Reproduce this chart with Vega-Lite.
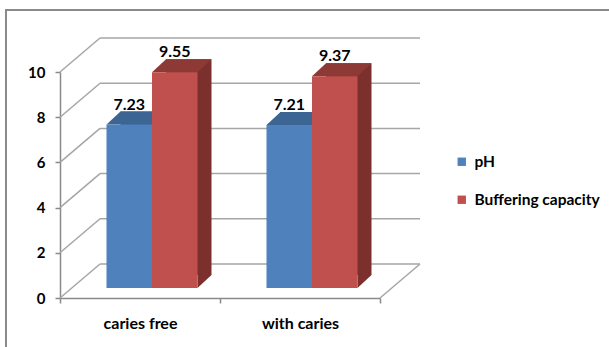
{
  "$schema": "https://vega.github.io/schema/vega-lite/v6.json",
  "width": 605,
  "height": 339,
  "autosize": {"type": "none"},
  "padding": {"left": 6, "top": 10, "right": -2, "bottom": -2},
  "background": "white",
  "config": {
    "view": {"stroke": "#8a8a8a", "strokeWidth": 2},
    "font": "Lato"
  },
  "datasets": {
    "bars": [
      {"group": "caries free", "series": "pH", "value": 7.23},
      {"group": "caries free", "series": "Buffering capacity", "value": 9.55},
      {"group": "with caries", "series": "pH", "value": 7.21},
      {"group": "with caries", "series": "Buffering capacity", "value": 9.37}
    ],
    "grid": [{"v": 0}, {"v": 2}, {"v": 4}, {"v": 6}, {"v": 8}, {"v": 10}]
  },
  "resolve": {"scale": {"xOffset": "independent"}},
  "layer": [
    {
      "data": {"name": "grid"},
      "mark": {"type": "rule", "color": "#a6a6a6", "strokeWidth": 1.5, "xOffset": 40, "x2Offset": 40, "yOffset": -34},
      "encoding": {
        "x": {"datum": "caries free", "bandPosition": 0, "type": "nominal", "title": null,
          "scale": {"type": "band", "domain": ["caries free", "with caries"], "range": [54, 374], "paddingInner": 0, "paddingOuter": 0},
          "axis": {"title": null, "offset": -51, "bandPosition": 0.5, "labelAlign": "center", "labelAngle": 0, "labelFont": "Lato", "labelFontSize": 16, "labelFontWeight": "bold", "labelColor": "#000000", "labelPadding": 12, "domainColor": "#8a8a8a", "domainWidth": 1.5, "tickColor": "#8a8a8a", "tickSize": 5, "tickWidth": 1.5, "tickBand": "extent", "grid": false}},
        "x2": {"datum": "with caries", "bandPosition": 1},
        "y": {"field": "v", "type": "quantitative", "title": null,
          "scale": {"domain": [0, 10], "range": [288, 62], "nice": false},
          "axis": {"title": null, "offset": -54, "values": [0, 2, 4, 6, 8, 10], "labelFont": "Lato", "labelFontSize": 15, "labelFontWeight": "bold", "labelColor": "#000000", "labelPadding": 10, "domainColor": "#8a8a8a", "domainWidth": 1.5, "tickColor": "#8a8a8a", "tickSize": 5, "tickWidth": 1.5, "grid": false}}
      }
    },
    {
      "data": {"name": "grid"},
      "mark": {"type": "rule", "color": "#a6a6a6", "strokeWidth": 1.5, "x2Offset": 40, "y2Offset": -34},
      "encoding": {
        "x": {"datum": "caries free", "bandPosition": 0, "type": "nominal", "title": null},
        "x2": {"datum": "caries free", "bandPosition": 0},
        "y": {"field": "v", "type": "quantitative", "title": null},
        "y2": {"field": "v"}
      }
    },
    {
      "data": {"name": "grid"},
      "transform": [{"filter": "datum.v == 0"}],
      "mark": {"type": "rule", "color": "#a6a6a6", "strokeWidth": 1.5, "x2Offset": 40, "y2Offset": -34},
      "encoding": {
        "x": {"datum": "with caries", "bandPosition": 1, "type": "nominal", "title": null},
        "x2": {"datum": "with caries", "bandPosition": 1},
        "y": {"field": "v", "type": "quantitative", "title": null},
        "y2": {"field": "v"}
      }
    },
    {
      "data": {"name": "bars"},
      "mark": {"type": "bar", "yOffset": -23, "y2Offset": -23},
      "encoding": {
        "x": {"field": "group", "type": "nominal", "title": null},
        "xOffset": {"field": "series", "type": "nominal", "sort": ["pH", "Buffering capacity"], "scale": {"type": "band", "range": [26, 186], "paddingInner": 0, "paddingOuter": 0.758}},
        "y": {"field": "value", "type": "quantitative", "title": null},
        "fill": {"condition": {"test": "datum.series === 'pH'", "value": "#37598a"}, "value": "#7b302e"}
      }
    },
    {
      "data": {"name": "bars"},
      "mark": {"type": "point", "filled": true, "opacity": 1, "strokeWidth": 0, "size": 400, "yOffset": -10, "shape": "M2.275,-1.3L2.275,0L3.675,-1.3Z"},
      "encoding": {
        "x": {"field": "group", "type": "nominal", "title": null},
        "xOffset": {"field": "series", "type": "nominal", "sort": ["pH", "Buffering capacity"], "scale": {"type": "band", "range": [12, 172], "paddingInner": 0, "paddingOuter": 0.758}},
        "y": {"datum": 0, "type": "quantitative", "title": null},
        "fill": {"condition": {"test": "datum.series === 'pH'", "value": "#37598a"}, "value": "#7b302e"}
      }
    },
    {
      "data": {"name": "bars"},
      "mark": {"type": "point", "filled": true, "opacity": 1, "strokeWidth": 0, "size": 400, "yOffset": -10, "shape": "M-2.275,0L2.275,0L3.675,-1.3L-0.875,-1.3Z"},
      "encoding": {
        "x": {"field": "group", "type": "nominal", "title": null},
        "xOffset": {"field": "series", "type": "nominal", "sort": ["pH", "Buffering capacity"], "scale": {"type": "band", "range": [12, 172], "paddingInner": 0, "paddingOuter": 0.758}},
        "y": {"field": "value", "type": "quantitative", "title": null},
        "fill": {"condition": {"test": "datum.series === 'pH'", "value": "#3d6594"}, "value": "#8d3a37"}
      }
    },
    {
      "data": {"name": "bars"},
      "mark": {"type": "bar", "yOffset": -10, "y2Offset": -10},
      "encoding": {
        "x": {"field": "group", "type": "nominal", "title": null},
        "xOffset": {"field": "series", "type": "nominal", "sort": ["pH", "Buffering capacity"], "scale": {"type": "band", "range": [12, 172], "paddingInner": 0, "paddingOuter": 0.758}},
        "y": {"field": "value", "type": "quantitative", "title": null},
        "color": {"field": "series", "type": "nominal", "sort": ["pH", "Buffering capacity"],
          "scale": {"domain": ["pH", "Buffering capacity"], "range": ["#4f81bd", "#c0504d"]},
          "legend": {"title": null, "orient": "none", "legendX": 448, "legendY": 144, "symbolType": "square", "symbolSize": 70, "symbolStrokeWidth": 0, "labelFont": "Lato", "labelFontSize": 15.5, "labelFontWeight": "bold", "labelColor": "#000000", "labelOffset": 5, "rowPadding": 21, "padding": 0}}
      }
    },
    {
      "data": {"name": "bars"},
      "mark": {"type": "text", "yOffset": -25, "baseline": "alphabetic", "fontSize": 16, "fontWeight": "bold", "font": "Lato", "color": "#000000"},
      "encoding": {
        "x": {"field": "group", "type": "nominal", "title": null},
        "xOffset": {"field": "series", "type": "nominal", "sort": ["pH", "Buffering capacity"], "scale": {"type": "band", "range": [12, 172], "paddingInner": 0, "paddingOuter": 0.758}},
        "y": {"field": "value", "type": "quantitative", "title": null},
        "text": {"field": "value", "type": "quantitative", "format": ".2f"}
      }
    }
  ]
}
